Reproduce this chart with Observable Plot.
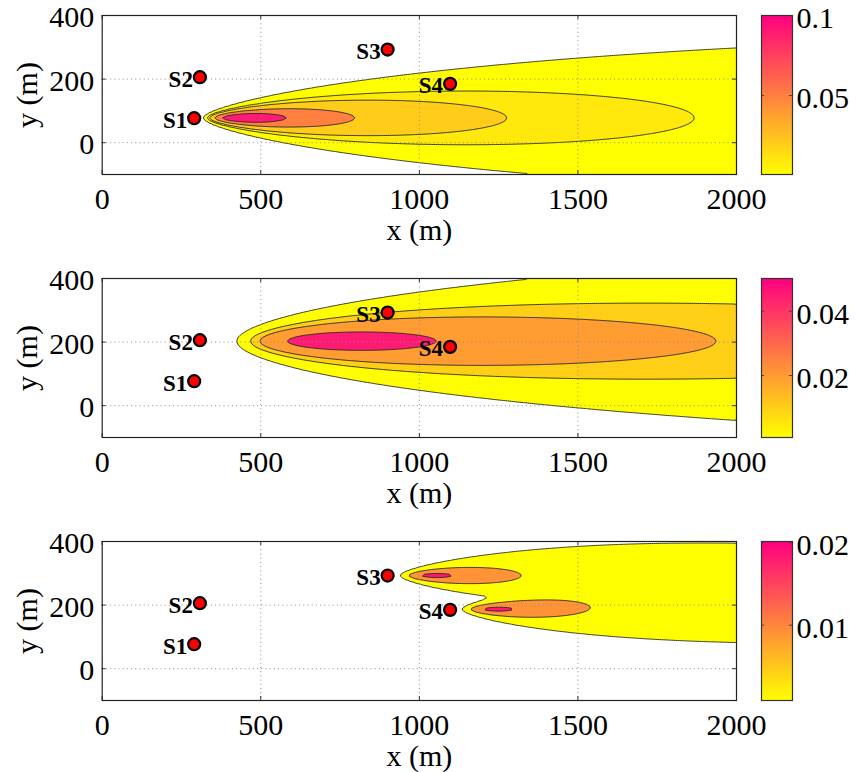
<!DOCTYPE html>
<html>
<head>
<meta charset="utf-8">
<script src="https://cdn.jsdelivr.net/npm/d3@7"></script>
<script src="https://cdn.jsdelivr.net/npm/@observablehq/plot@0.6"></script>
<style>
  html, body { margin: 0; padding: 0; background: #fff; }
  #root { position: relative; width: 856px; height: 772px; overflow: hidden; }
  .panel { position: absolute; overflow: visible; }
</style>
</head>
<body>
<div id="root"></div>
<script>
// ---- data ----
const sensorNames = ["S1", "S2", "S3", "S4"];
const sensorX = [290, 308, 900, 1097];
const sensorY = [77, 206, 293, 185];

const xTicks = [0, 500, 1000, 1500, 2000];
const yTicks = [0, 200, 400];
const xDomain = [0, 2000];
const yDomain = [-100, 400];

// plume sources (panel index, location, strength, decay, near-source rise, lateral spread)
const sourcePanel = [0, 1, 2, 2];
const sourceX = [292, 350, 905, 1100];
const sourceY = [78, 203, 293, 187];
const sourceStrength = [4509, 3895, 1760, 1740];
const decayExp = [1.75, 1.6, 1.914, 1.914];
const riseScale = [262, 618, 266, 266];
const spreadCoef = [0.32, 0.773, 0.261, 0.261];
const spreadExp = [0.78, 0.66, 0.821, 0.821];

// contour levels and colour bars per panel
const levels1 = [0.001, 0.0097, 0.02, 0.05, 0.09];
const levels2 = [0.001, 0.01, 0.02, 0.045];
const levels3 = [0.001, 0.009, 0.0185];
const colorMin = [0.0006, 0.0007, 0.0009];
const colorMax = [0.1, 0.0502, 0.0201];
const colorTicks1 = [0.05, 0.1];
const colorTicks2 = [0.02, 0.04];
const colorTicks3 = [0.01, 0.02];

// ---- build ----
const levels = [levels1, levels2, levels3];
const colorTicks = [colorTicks1, colorTicks2, colorTicks3];
const sensors = sensorNames.map((name, i) => ({name, x: sensorX[i], y: sensorY[i]}));
const panelTops = [0, 263.3, 525.7];
const FONT = "'Liberation Serif', 'Times New Roman', serif";
const ramp = d3.interpolateRgb("#ffff00", "#ff0080");

function field(panel) {
  const idx = sourcePanel.map((p, i) => p === panel ? i : -1).filter(i => i >= 0);
  return (x, y) => {
    let c = 0;
    for (const i of idx) {
      const d = x - sourceX[i];
      if (d <= 0) continue;
      const s = spreadCoef[i] * Math.pow(d, spreadExp[i]);
      const r = y - sourceY[i];
      c += sourceStrength[i] * Math.pow(d, -decayExp[i]) * Math.exp(-riseScale[i] / d) * Math.exp(-(r * r) / (2 * s * s));
    }
    return c;
  };
}

const root = document.getElementById("root");
const H = 260, MT = 15, MB = 86, ML = 101.7, MR = 120;
const frameH = H - MT - MB;

for (let p = 0; p < 3; p++) {
  const colorScale = {type: "linear", domain: [colorMin[p], colorMax[p]], interpolate: ramp, clamp: true};
  const tickLenY = (yDomain[1] - yDomain[0]) * 4 / frameH;
  const tickLenX = (xDomain[1] - xDomain[0]) * 4 / (856 - ML - MR);
  const gridX = xTicks.filter(v => v > xDomain[0] && v < xDomain[1]);
  const gridY = yTicks.filter(v => v > yDomain[0] && v < yDomain[1]);

  const main = Plot.plot({
    width: 856, height: H,
    marginLeft: ML, marginRight: MR, marginTop: MT, marginBottom: MB,
    x: {domain: xDomain},
    y: {domain: yDomain},
    color: colorScale,
    style: {fontFamily: FONT, background: "transparent", color: "black", overflow: "visible"},
    marks: [
      Plot.contour({
        x1: xDomain[0], x2: xDomain[1], y1: yDomain[0], y2: yDomain[1],
        fill: field(p), thresholds: levels[p],
        stroke: "#262626", strokeWidth: 0.9
      }),
      Plot.ruleX(gridX, {stroke: "#8c8c8c", strokeDasharray: "1,3.2", strokeWidth: 1}),
      Plot.ruleY(gridY, {stroke: "#8c8c8c", strokeDasharray: "1,3.2", strokeWidth: 1}),
      Plot.ruleX(xTicks, {y1: yDomain[0], y2: yDomain[0] + tickLenY, stroke: "#333"}),
      Plot.ruleX(xTicks, {y1: yDomain[1], y2: yDomain[1] - tickLenY, stroke: "#333"}),
      Plot.ruleY(yTicks, {x1: xDomain[0], x2: xDomain[0] + tickLenX, stroke: "#333"}),
      Plot.ruleY(yTicks, {x1: xDomain[1], x2: xDomain[1] - tickLenX, stroke: "#333"}),
      Plot.frame({stroke: "#222", strokeWidth: 1.2}),
      Plot.dot(sensors, {x: "x", y: "y", r: 6, fill: "#ff0000", stroke: "black", strokeWidth: 2.2}),
      Plot.text(sensors, {x: "x", y: "y", text: "name", textAnchor: "end", dx: -7, dy: 2, fontSize: 23, fontWeight: "bold", fill: "black"}),
      Plot.axisX({ticks: xTicks, tickSize: 0, tickPadding: 13, fontSize: 30, label: null, tickFormat: d => String(d)}),
      Plot.axisY({ticks: yTicks, tickSize: 0, tickPadding: 8, dy: 2, fontSize: 30, label: null, tickFormat: d => String(d)}),
      Plot.text(["x (m)"], {frameAnchor: "bottom", lineAnchor: "middle", textAnchor: "middle", dy: 56, fontSize: 30, text: d => d}),
      Plot.text(["y (m)"], {frameAnchor: "left", lineAnchor: "middle", textAnchor: "middle", dx: -75, rotate: -90, fontSize: 30, text: d => d})
    ]
  });
  main.classList.add("panel");
  main.style.left = "0px";
  main.style.top = panelTops[p] + "px";
  root.appendChild(main);

  const cmin = colorMin[p], cmax = colorMax[p];
  const bar = Plot.plot({
    width: 113, height: H,
    marginLeft: 21, marginRight: 61, marginTop: MT, marginBottom: MB,
    x: {domain: [0, 1], axis: null},
    y: {domain: [cmin, cmax]},
    color: colorScale,
    style: {fontFamily: FONT, background: "transparent", color: "black", overflow: "visible"},
    marks: [
      Plot.raster({x1: 0, x2: 1, y1: cmin, y2: cmax, fill: (x, y) => y}),
      Plot.ruleY(colorTicks[p], {x1: 0, x2: 0.1, stroke: "#444"}),
      Plot.ruleY(colorTicks[p], {x1: 0.9, x2: 1, stroke: "#444"}),
      Plot.frame({stroke: "#333", strokeWidth: 1.2}),
      Plot.axisY({ticks: colorTicks[p], anchor: "right", tickSize: 0, tickPadding: 4, dy: 3, fontSize: 30, label: null, tickFormat: d => String(d)})
    ]
  });
  bar.classList.add("panel");
  bar.style.left = "740px";
  bar.style.top = panelTops[p] + "px";
  root.appendChild(bar);
}
</script>
</body>
</html>
